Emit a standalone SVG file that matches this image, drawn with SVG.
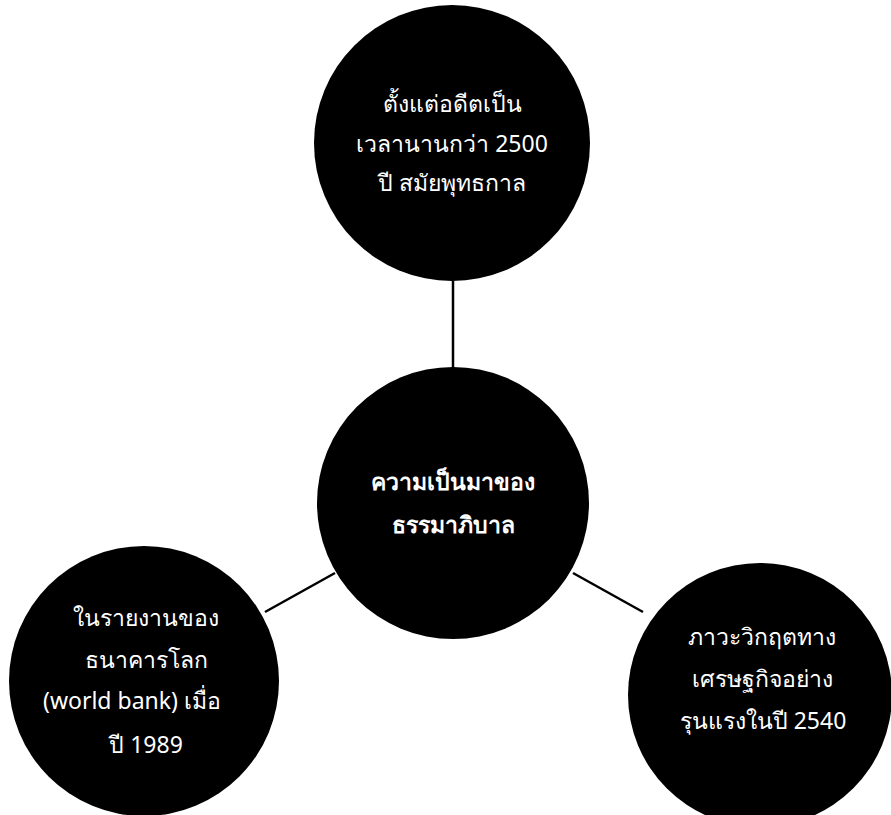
<svg xmlns="http://www.w3.org/2000/svg" width="891" height="815" viewBox="0 0 891 815">
<style>
.node{fill:#000}
.t{fill:#fff;font-family:"Noto Sans","DejaVu Sans",sans-serif;font-size:23px;text-anchor:middle}
.b{font-weight:bold}
.c{stroke:#000;stroke-width:2.5;fill:none}
</style>
<rect width="891" height="815" fill="#fff"/>
<g id="connectors">
<line class="c" x1="453" y1="281" x2="453" y2="368"/>
<line class="c" x1="265" y1="612" x2="335" y2="573"/>
<line class="c" x1="573" y1="573" x2="643" y2="612"/>
</g>
<g id="node-top">
<circle class="node" cx="452" cy="143" r="138"/>
<text class="t" x="452" y="112">ตั้งแต่อดีตเป็น</text>
<text class="t" x="452" y="152">เวลานานกว่า 2500</text>
<text class="t" x="452" y="191">ปี สมัยพุทธกาล</text>
</g>
<g id="node-center">
<circle class="node" cx="453" cy="503" r="136"/>
<text class="t b" x="453" y="490">ความเป็นมาของ</text>
<text class="t b" x="453" y="533">ธรรมาภิบาล</text>
</g>
<g id="node-left">
<circle class="node" cx="144" cy="681" r="135"/>
<text class="t" x="146" y="626">ในรายงานของ</text>
<text class="t" x="146" y="668">ธนาคารโลก</text>
<text class="t" x="132" y="709">(world bank) เมื่อ</text>
<text class="t" x="146" y="753">ปี 1989</text>
</g>
<g id="node-right">
<circle class="node" cx="760" cy="695" r="132"/>
<text class="t" x="762" y="645">ภาวะวิกฤตทาง</text>
<text class="t" x="762" y="687">เศรษฐกิจอย่าง</text>
<text class="t" x="763" y="729">รุนแรงในปี 2540</text>
</g>
</svg>
